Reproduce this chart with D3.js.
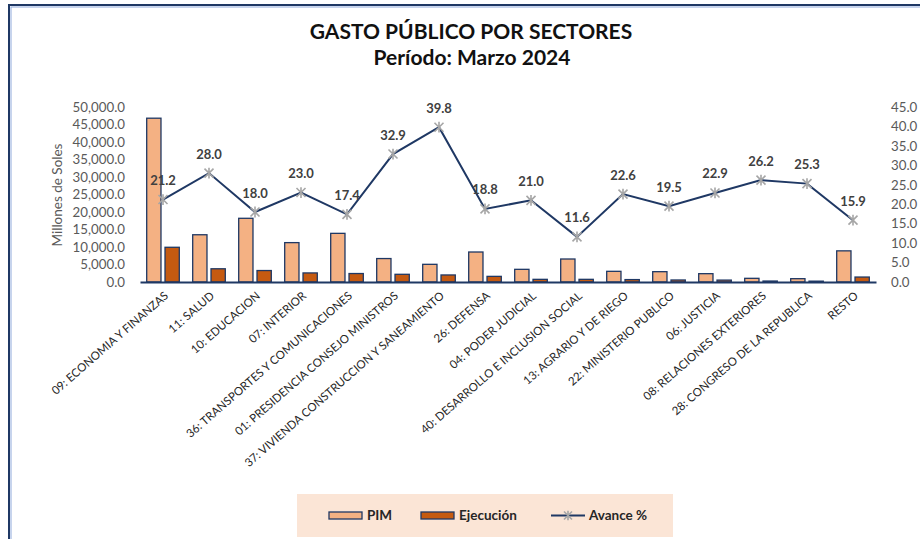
<!DOCTYPE html>
<html>
<head>
<meta charset="utf-8">
<script src="https://cdn.jsdelivr.net/npm/d3@7"></script>
<style>
  body { margin: 0; background: #fff; }
  svg { display: block; font-family: Lato, 'Open Sans', sans-serif; }
</style>
</head>
<body>
<div id="chart"></div>
<script>
// categories and series
const sectores = [
  '09: ECONOMIA Y FINANZAS', '11: SALUD', '10: EDUCACION', '07: INTERIOR',
  '36: TRANSPORTES Y COMUNICACIONES', '01: PRESIDENCIA CONSEJO MINISTROS',
  '37: VIVIENDA CONSTRUCCION Y SANEAMIENTO', '26: DEFENSA', '04: PODER JUDICIAL',
  '40: DESARROLLO E INCLUSION SOCIAL', '13: AGRARIO Y DE RIEGO', '22: MINISTERIO PUBLICO',
  '06: JUSTICIA', '08: RELACIONES EXTERIORES', '28: CONGRESO DE LA REPUBLICA', 'RESTO'
];
const pim = [46800, 13500, 18200, 11250, 13900, 6700, 5050, 8570, 3620, 6570, 3050, 2950, 2380, 1050, 950, 8900];
const ejecucion = [9920, 3780, 3276, 2590, 2420, 2200, 2010, 1610, 760, 762, 690, 575, 545, 275, 240, 1415];
const avance = [21.2, 28.0, 18.0, 23.0, 17.4, 32.9, 39.8, 18.8, 21.0, 11.6, 22.6, 19.5, 22.9, 26.2, 25.3, 15.9];
const leftTicks = [0, 5000, 10000, 15000, 20000, 25000, 30000, 35000, 40000, 45000, 50000];
const rightTicks = [0, 5, 10, 15, 20, 25, 30, 35, 40, 45];
const series = ['PIM', 'Ejecución'];

const width = 920, height = 539;
const navy = '#1F3864';
const colors = { 'PIM': '#F4B183', 'Ejecución': '#C55A11' };

const svg = d3.select('#chart').append('svg')
  .attr('width', width)
  .attr('height', height);

// outer frame of the chart (only left and top are visible)
svg.append('rect')
  .attr('x', 9).attr('y', 5)
  .attr('width', 940).attr('height', 560)
  .attr('fill', 'none')
  .attr('stroke', navy)
  .attr('stroke-width', 2);
svg.append('rect')
  .attr('x', 11).attr('y', 7)
  .attr('width', 940).attr('height', 560)
  .attr('fill', 'none')
  .attr('stroke', '#8FAADC')
  .attr('stroke-width', 1);

// titles
svg.append('text')
  .attr('x', 471).attr('y', 39)
  .attr('text-anchor', 'middle')
  .attr('font-weight', 'bold')
  .attr('font-size', 21)
  .attr('fill', '#111')
  .text('GASTO PÚBLICO POR SECTORES');
svg.append('text')
  .attr('x', 472).attr('y', 65)
  .attr('text-anchor', 'middle')
  .attr('font-weight', 'bold')
  .attr('font-size', 21)
  .attr('fill', '#111')
  .text('Período: Marzo 2024');

// scales
const x = d3.scaleBand().domain(sectores).range([140, 876]);
const x1 = d3.scaleBand().domain(series).range([6.7, x.bandwidth() - 6.7]).paddingInner(0.22);
const y = d3.scaleLinear().domain([0, 50000]).range([282, 107]);
const y2 = d3.scaleLinear().domain([0, 45]).range([282, 107]);

// left axis
const leftAxis = svg.append('g')
  .attr('transform', 'translate(128,0)')
  .call(d3.axisLeft(y).tickValues(leftTicks).tickFormat(d3.format(',.1f')).tickSize(0).tickPadding(3));
leftAxis.select('.domain').remove();
leftAxis.selectAll('text')
  .attr('font-family', 'Lato, sans-serif')
  .attr('font-size', 13.3)
  .attr('fill', '#595959');

// right axis
const rightAxis = svg.append('g')
  .attr('transform', 'translate(888,0)')
  .call(d3.axisRight(y2).tickValues(rightTicks).tickFormat(d3.format('.1f')).tickSize(0).tickPadding(3));
rightAxis.select('.domain').remove();
rightAxis.selectAll('text')
  .attr('font-family', 'Lato, sans-serif')
  .attr('font-size', 13.3)
  .attr('fill', '#595959');

// y axis title
svg.append('text')
  .attr('transform', 'translate(62,195) rotate(-90)')
  .attr('text-anchor', 'middle')
  .attr('font-size', 13.5)
  .attr('fill', '#595959')
  .text('Millones de Soles');

// bars
const groups = svg.append('g').selectAll('g')
  .data(sectores)
  .enter()
  .append('g')
  .attr('transform', d => 'translate(' + x(d) + ',0)');

groups.selectAll('rect')
  .data((d, i) => [{ key: 'PIM', value: pim[i] }, { key: 'Ejecución', value: ejecucion[i] }])
  .enter()
  .append('rect')
  .attr('x', d => x1(d.key))
  .attr('y', d => y(d.value))
  .attr('width', x1.bandwidth())
  .attr('height', d => y(0) - y(d.value))
  .attr('fill', d => colors[d.key])
  .attr('stroke', navy)
  .attr('stroke-width', 1.3);

// category axis
const bottomAxis = svg.append('g')
  .attr('transform', 'translate(0,282)')
  .call(d3.axisBottom(x).tickSize(0).tickSizeOuter(0));
bottomAxis.select('.domain')
  .attr('stroke', navy)
  .attr('stroke-width', 2);
bottomAxis.selectAll('text')
  .attr('font-family', 'Lato, sans-serif')
  .attr('font-size', 11.5)
  .attr('fill', '#262626')
  .attr('text-anchor', 'end')
  .attr('dy', 0)
  .attr('y', 0)
  .attr('transform', 'translate(6,15) rotate(-41)');

// avance % line
const pts = sectores.map((s, i) => [x(s) + x.bandwidth() / 2, y2(avance[i])]);
svg.append('path')
  .datum(pts)
  .attr('d', d3.line())
  .attr('fill', 'none')
  .attr('stroke', navy)
  .attr('stroke-width', 2);

// star markers (x with a vertical bar)
function star(g, cx, cy, r) {
  g.append('path')
    .attr('d', 'M' + (cx - r) + ',' + (cy - r) + 'L' + (cx + r) + ',' + (cy + r) +
      'M' + (cx - r) + ',' + (cy + r) + 'L' + (cx + r) + ',' + (cy - r) +
      'M' + cx + ',' + (cy - r * 1.2) + 'L' + cx + ',' + (cy + r * 1.2))
    .attr('stroke', '#A6A6A6')
    .attr('stroke-width', 1.6)
    .attr('fill', 'none');
}
const markers = svg.append('g');
pts.forEach(p => star(markers, p[0], p[1], 4.5));

// data labels
svg.append('g').selectAll('text')
  .data(avance)
  .enter()
  .append('text')
  .attr('x', (d, i) => pts[i][0])
  .attr('y', (d, i) => pts[i][1] - 14.5)
  .attr('text-anchor', 'middle')
  .attr('font-weight', 'bold')
  .attr('font-size', 13)
  .attr('fill', '#404040')
  .text(d => d3.format('.1f')(d));

// legend
const legend = svg.append('g');
legend.append('rect')
  .attr('x', 297).attr('y', 494)
  .attr('width', 376).attr('height', 43)
  .attr('fill', '#FBE5D6');
legend.append('rect')
  .attr('x', 329).attr('y', 512).attr('width', 33).attr('height', 7)
  .attr('fill', colors['PIM']).attr('stroke', navy).attr('stroke-width', 1.3);
legend.append('text')
  .attr('x', 367).attr('y', 520)
  .attr('font-weight', 'bold').attr('font-size', 13.5).attr('fill', '#262626')
  .text('PIM');
legend.append('rect')
  .attr('x', 421).attr('y', 512).attr('width', 33).attr('height', 7)
  .attr('fill', colors['Ejecución']).attr('stroke', navy).attr('stroke-width', 1.3);
legend.append('text')
  .attr('x', 459).attr('y', 520)
  .attr('font-weight', 'bold').attr('font-size', 13.5).attr('fill', '#262626')
  .text('Ejecución');
legend.append('line')
  .attr('x1', 551).attr('x2', 585).attr('y1', 515.5).attr('y2', 515.5)
  .attr('stroke', navy).attr('stroke-width', 2);
star(legend, 568, 515.5, 4);
legend.append('text')
  .attr('x', 589).attr('y', 520)
  .attr('font-weight', 'bold').attr('font-size', 13.5).attr('fill', '#262626')
  .text('Avance %');
</script>
</body>
</html>
